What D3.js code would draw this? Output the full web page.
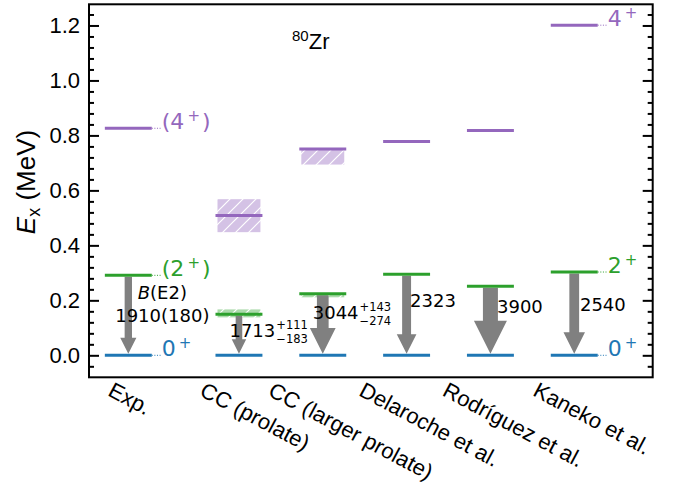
<!DOCTYPE html>
<html>
<head>
<meta charset="utf-8">
<script src="https://cdn.jsdelivr.net/npm/d3@7/dist/d3.min.js"></script>
<style>
  body { margin: 0; background: #fff; }
  svg { display: block; }
</style>
</head>
<body>
<svg id="chart" width="680" height="484"></svg>
<script>
// level energies (MeV) per calculation
const models = ['Exp.', 'CC (prolate)', 'CC (larger prolate)', 'Delaroche et al.', 'Rodríguez et al.', 'Kaneko et al.'];
const level0 = [0, 0, 0, 0, 0, 0];
const level2 = [0.291, 0.149, 0.224, 0.2945, 0.251, 0.303];
const level4 = [0.826, 0.509, 0.751, 0.778, 0.818, 1.201];
// uncertainty bands [low, high], null when none
const band2 = [null, [0.138, 0.167], [0.211, 0.224], null, null, null];
const band4 = [null, [0.448, 0.568], [0.694, 0.751], null, null, null];
// B(E2; 2+ -> 0+) in e^2 fm^4
const be2 = [1910, 1713, 3044, 2323, 3900, 2540];
const be2Text = ['1910(180)', '1713', '3044', '2323', '3900', '2540'];
const be2Err = [null, ['+111', '\u2212183'], ['+143', '\u2212274'], null, null, null];
const yMajor = [0, 0.2, 0.4, 0.6, 0.8, 1.0, 1.2];
const yMinor = [-0.04, 0.04, 0.08, 0.12, 0.16, 0.24, 0.28, 0.32, 0.36, 0.44, 0.48, 0.52, 0.56,
  0.64, 0.68, 0.72, 0.76, 0.84, 0.88, 0.92, 0.96, 1.04, 1.08, 1.12, 1.16, 1.24];

const C0 = '#1f77b4';
const C2 = '#2ca02c';
const C4 = '#9467bd';
const SANS = 'Liberation Sans, Arial, sans-serif';
const DEJA = 'DejaVu Sans, sans-serif';

// layout of the B(E2) numbers: px offset from column centre, baseline energy
const be2Dx = [34, -9.5, -10, 3.5, 6.6, 5.7];
const be2Y = [0.121, 0.068, 0.131, 0.1745, 0.153, 0.161];

const svg = d3.select('#chart');
const x = d3.scaleLinear().domain([-0.469, 6.256]).range([89, 652.7]);
const y = d3.scaleLinear().domain([-0.08, 1.277]).range([377.3, 4.3]);
const xPos = (i) => (i === 0 ? 0 : i + 0.32);
const HALF = 0.28;

// hatch patterns
const defs = svg.append('defs');
function hatch(id, fill) {
  const p = defs.append('pattern')
    .attr('id', id)
    .attr('patternUnits', 'userSpaceOnUse')
    .attr('width', 13)
    .attr('height', 13);
  p.append('rect').attr('width', 13).attr('height', 13).attr('fill', fill);
  p.append('path')
    .attr('d', 'M-2,2 L2,-2 M0,13 L13,0 M11,15 L15,11')
    .attr('stroke', '#fff')
    .attr('stroke-width', 1.2);
}
hatch('hatch4', '#d4c2e5');
hatch('hatch2', '#abdaab');

const cols = models.map((m, i) => ({ i, name: m }));

// bands
[[band4, 'url(#hatch4)'], [band2, 'url(#hatch2)']].forEach(([bands, fill]) => {
  svg.append('g')
    .selectAll('rect')
    .data(cols.filter((d) => bands[d.i]))
    .join('rect')
    .attr('x', (d) => x(xPos(d.i) - HALF) + 2)
    .attr('width', (d) => x(xPos(d.i) + HALF) - x(xPos(d.i) - HALF) - 4)
    .attr('y', (d) => y(bands[d.i][1]))
    .attr('height', (d) => y(bands[d.i][0]) - y(bands[d.i][1]))
    .attr('fill', fill);
});

// arrows
const arrowG = svg.append('g');
cols.forEach((d) => {
  const cx = x(xPos(d.i));
  const y1 = y(level2[d.i]) + 1.5;
  const y2 = y(level0[d.i]) - 1.5;
  const sw = be2[d.i] / 260;
  const hw = sw * 2.2;
  const hl = hw;
  const path = d3.path();
  path.moveTo(cx - sw / 2, y1);
  path.lineTo(cx + sw / 2, y1);
  path.lineTo(cx + sw / 2, y2 - hl);
  path.lineTo(cx + hw / 2, y2 - hl);
  path.lineTo(cx, y2);
  path.lineTo(cx - hw / 2, y2 - hl);
  path.lineTo(cx - sw / 2, y2 - hl);
  path.closePath();
  arrowG.append('path').attr('d', path.toString()).attr('fill', '#808080');
});

// levels
[[level0, C0], [level2, C2], [level4, C4]].forEach(([lv, color]) => {
  svg.append('g')
    .selectAll('line')
    .data(cols)
    .join('line')
    .attr('x1', (d) => x(xPos(d.i) - HALF))
    .attr('x2', (d) => x(xPos(d.i) + HALF))
    .attr('y1', (d) => y(lv[d.i]))
    .attr('y2', (d) => y(lv[d.i]))
    .attr('stroke', color)
    .attr('stroke-width', 3);
});

// spin labels with dotted leaders (Exp. and Kaneko)
const spinLabels = [
  { col: 0, lv: level0, base: '0', tail: '', color: C0 },
  { col: 0, lv: level2, base: '(2', tail: ')', color: C2 },
  { col: 0, lv: level4, base: '(4', tail: ')', color: C4 },
  { col: 5, lv: level0, base: '0', tail: '', color: C0 },
  { col: 5, lv: level2, base: '2', tail: '', color: C2 },
  { col: 5, lv: level4, base: '4', tail: '', color: C4 },
];
spinLabels.forEach((s) => {
  const xe = x(xPos(s.col) + HALF);
  const yl = y(s.lv[s.col]);
  svg.append('line')
    .attr('x1', xe).attr('x2', xe + 9)
    .attr('y1', yl).attr('y2', yl)
    .attr('stroke', s.color)
    .attr('stroke-width', 1)
    .attr('stroke-dasharray', '1,1.6');
  const t = svg.append('text')
    .attr('x', xe + 10)
    .attr('y', yl + 1)
    .attr('fill', s.color)
    .style('font-family', DEJA)
    .style('font-size', '22px');
  t.append('tspan').text(s.base);
  t.append('tspan').attr('dx', 3).attr('dy', -8).style('font-size', '15px').text('+');
  if (s.tail) t.append('tspan').attr('dx', 2).attr('dy', 8).text(s.tail);
});

// B(E2) numbers
svg.append('text')
  .attr('x', x(xPos(0)) + be2Dx[0])
  .attr('y', y(0.204))
  .attr('text-anchor', 'middle')
  .style('font-family', DEJA)
  .style('font-size', '18px')
  .call((t) => {
    t.append('tspan').style('font-style', 'italic').text('B');
    t.append('tspan').text('(E2)');
  });
cols.forEach((d) => {
  const t = svg.append('text')
    .attr('x', x(xPos(d.i)) + be2Dx[d.i])
    .attr('y', y(be2Y[d.i]))
    .attr('text-anchor', d.i === 0 ? 'middle' : 'start')
    .style('font-family', DEJA)
    .style('font-size', '18px')
    .text(be2Text[d.i]);
  if (be2Err[d.i]) {
    const w = t.node().getComputedTextLength();
    const x0 = x(xPos(d.i)) + be2Dx[d.i] + w + 1;
    const yb = y(be2Y[d.i]);
    svg.append('text').attr('x', x0).attr('y', yb - 8)
      .style('font-family', DEJA).style('font-size', '11.5px').text(be2Err[d.i][0]);
    svg.append('text').attr('x', x0).attr('y', yb + 6)
      .style('font-family', DEJA).style('font-size', '11.5px').text(be2Err[d.i][1]);
  }
});

// nucleus label
svg.append('text')
  .attr('x', 292)
  .attr('y', 49)
  .style('font-family', SANS)
  .style('font-size', '22px')
  .call((t) => {
    t.append('tspan').attr('dy', -8).style('font-size', '15px').text('80');
    t.append('tspan').attr('dy', 8).text('Zr');
  });

// y axes: ticks inward on both sides
const axL = svg.append('g').attr('transform', 'translate(89,0)')
  .call(d3.axisLeft(y).tickValues(yMajor).tickSize(-10).tickSizeOuter(0).tickPadding(9).tickFormat(d3.format('.1f')));
svg.append('g').attr('transform', 'translate(89,0)')
  .call(d3.axisLeft(y).tickValues(yMinor).tickSize(-5).tickSizeOuter(0).tickFormat(''));
svg.append('g').attr('transform', 'translate(652.7,0)')
  .call(d3.axisRight(y).tickValues(yMajor).tickSize(-10).tickSizeOuter(0).tickFormat(''));
svg.append('g').attr('transform', 'translate(652.7,0)')
  .call(d3.axisRight(y).tickValues(yMinor).tickSize(-5).tickSizeOuter(0).tickFormat(''));
svg.selectAll('.domain').remove();
svg.selectAll('.tick line').attr('stroke', '#000').attr('stroke-width', 2);
axL.selectAll('text')
  .style('font-family', SANS)
  .style('font-size', '22px')
  .attr('fill', '#000');

// frame
svg.append('rect')
  .attr('x', 89).attr('y', 4.3)
  .attr('width', 652.7 - 89).attr('height', 377.3 - 4.3)
  .attr('fill', 'none')
  .attr('stroke', '#000')
  .attr('stroke-width', 2);

// y label
svg.append('text')
  .attr('transform', 'translate(35,182) rotate(-90)')
  .attr('text-anchor', 'middle')
  .style('font-family', SANS)
  .style('font-size', '26px')
  .call((t) => {
    t.append('tspan').style('font-style', 'italic').text('E');
    t.append('tspan').attr('dy', 5).style('font-size', '18px').text('x');
    t.append('tspan').attr('dy', -5).text(' (MeV)');
  });

// x tick labels, rotated
cols.forEach((d) => {
  const t = svg.append('text')
    .style('font-family', SANS)
    .style('font-size', '22px')
    .attr('dy', '0.72em')
    .text(d.name);
  const L = t.node().getComputedTextLength();
  const x0 = x(xPos(d.i)) - 3.2 - 0.248 * L;
  t.attr('transform', `translate(${x0},381) rotate(28)`);
});
</script>
</body>
</html>
